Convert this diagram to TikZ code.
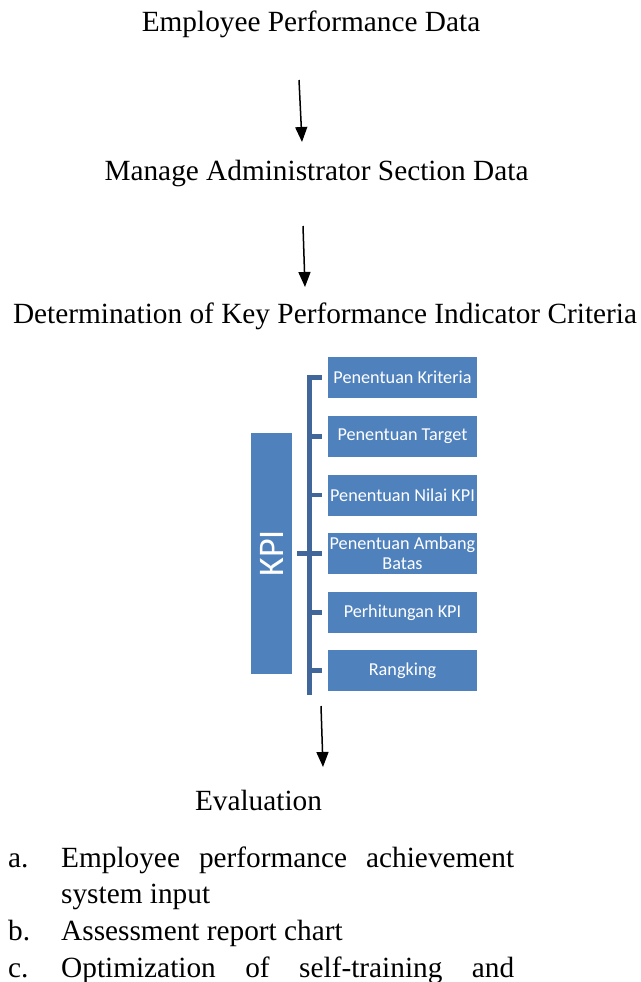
\documentclass[tikz,border=0pt]{standalone}
\usepackage{fontspec}
\setmainfont{Liberation Serif}
\newfontfamily\boxfont{Carlito}
\usetikzlibrary{arrows.meta}
\definecolor{boxblue}{HTML}{4F81BD}
\definecolor{lineblue}{HTML}{41679A}
\begin{document}
\begin{tikzpicture}[x=1pt,y=-1pt,
  txt/.style={inner sep=0pt,font=\fontsize{29.3}{34}\selectfont},
  flow/.style={line width=1.5pt,-{Triangle[width=12pt,length=15pt]}},
  kbox/.style={fill=boxblue,text=white,inner sep=0pt,minimum width=149pt,minimum height=41pt,align=center,font=\boxfont\fontsize{18.2}{20}\selectfont},
  spine/.style={draw=lineblue,line width=5pt},
  tick/.style={draw=lineblue,line width=4.5pt}]
\useasboundingbox (0,0) rectangle (640,982);
% titles
\node[txt,anchor=base] (t1) at (311,32) {Employee Performance Data};
\node[txt,anchor=base] (t2) at (316.5,180) {Manage Administrator Section Data};
\node[txt,anchor=base] (t3) at (325,323) {Determination of Key Performance Indicator Criteria};
\node[txt,anchor=base] (ev) at (258.5,810) {Evaluation};
% arrows
\coordinate (a1s) at (299,80); \coordinate (a1e) at (302,142);
\coordinate (a2s) at (303,226); \coordinate (a2e) at (305,287);
\coordinate (a3s) at (321,706); \coordinate (a3e) at (323,767);
\draw[flow] (a1s) -- (a1e);
\draw[flow] (a2s) -- (a2e);
\draw[flow] (a3s) -- (a3e);
% KPI block
\node[fill=boxblue,text=white,inner sep=0pt,minimum width=241pt,minimum height=41pt,rotate=90,font=\boxfont\fontsize{36}{40}\selectfont] (kpi) at (271.5,553.5) {KPI};
\coordinate (spT) at (309,375);
\coordinate (spB) at (309,695);
\draw[spine] (spT) -- (spB);
\coordinate (kt) at (297,553.5);
\draw[tick] (kt) -- (kt -| spT);
\node[kbox] (b1) at (402.5,377.5) {Penentuan Kriteria};
\node[kbox] (b2) at (402.5,436.5) {Penentuan Target};
\node[kbox] (b3) at (402.5,495) {Penentuan Nilai KPI};
\node[kbox] (b4) at (402.5,553.5) {Penentuan Ambang\\Batas};
\node[kbox] (b5) at (402.5,612.5) {Perhitungan KPI};
\node[kbox] (b6) at (402.5,670.5) {Rangking};
\foreach \b in {b1,b2,b3,b4,b5,b6}{
  \draw[tick] (\b.west -| spT) -- ([xshift=-6pt]\b.west);
}
% list
\node[txt,anchor=base west] (la) at (8,867) {a.};
\node[txt,anchor=base west] (la1) at (61,867) {\makebox[453pt][s]{Employee performance achievement}};
\node[txt,anchor=base west] (la2) at (61,903) {system input};
\node[txt,anchor=base west] (lb) at (8,940) {b.};
\node[txt,anchor=base west] (lb1) at (61,940) {Assessment report chart};
\node[txt,anchor=base west] (lc) at (8,977) {c.};
\node[txt,anchor=base west] (lc1) at (61,977) {\makebox[453pt][s]{Optimization of self-training and}};
\end{tikzpicture}
\end{document}
